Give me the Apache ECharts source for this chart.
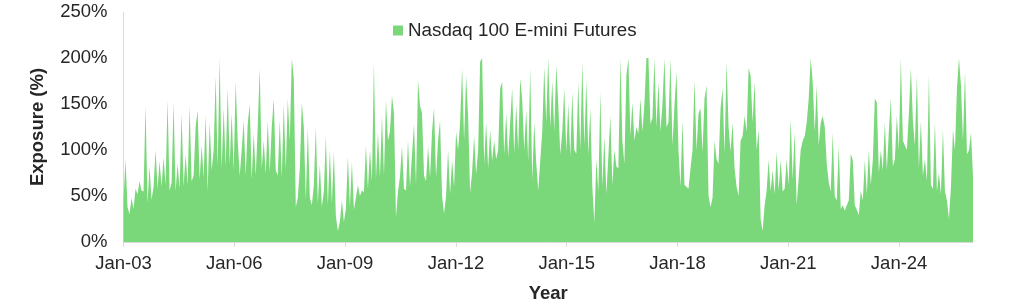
<!DOCTYPE html>
<html><head><meta charset="utf-8">
<script src="https://cdn.jsdelivr.net/npm/echarts@6/dist/echarts.min.js"></script>
<style>html,body{margin:0;padding:0;background:#fff}#c{width:1024px;height:306px}</style>
</head><body><div id="c"></div>
<script>
const seriesName = 'Nasdaq 100 E-mini Futures';
const startYear = 2003;
const endYear = 2026;
const tickYears = [2003, 2006, 2009, 2012, 2015, 2018, 2021, 2024];
const yTicks = [0, 50, 100, 150, 200, 250];
const exposure = [
45,90,38,30,48,36,58,52,66,56,
55,148,42,82,46,60,100,58,88,60,
92,62,154,56,64,152,55,85,58,140,
60,95,62,148,66,72,125,143,68,105,
70,138,55,130,78,100,180,82,200,80,
145,82,167,85,140,78,175,110,72,100,
132,72,128,150,68,118,72,125,189,80,
110,74,132,76,125,156,78,72,132,70,
150,78,156,110,200,178,38,48,80,152,
125,46,124,48,40,62,125,42,84,38,
55,115,40,100,42,98,28,12,22,45,
22,36,93,38,87,35,48,62,50,56,
54,105,58,100,66,196,68,119,70,137,
72,154,110,120,159,140,27,55,71,104,
58,56,111,60,95,128,62,176,148,140,
72,66,104,70,120,146,70,110,132,50,
31,50,100,52,89,60,120,100,130,189,
110,181,137,53,76,115,74,100,196,200,
85,130,80,122,88,110,90,100,167,174,
95,140,92,130,167,96,150,100,178,155,
100,143,88,189,67,130,86,56,88,120,
190,130,200,125,175,120,192,150,95,120,
167,98,150,92,163,100,96,174,100,196,
105,175,95,145,60,21,90,55,163,60,
115,52,93,137,62,100,82,80,200,110,
85,181,200,115,152,110,125,118,156,120,
150,200,200,128,135,200,125,174,120,150,
200,125,130,200,105,148,185,100,60,132,
62,60,58,80,100,176,100,140,145,98,
156,170,50,38,48,110,90,85,145,167,
96,196,125,98,130,80,60,50,110,115,
137,120,189,181,130,174,100,122,25,12,
40,56,89,55,78,52,98,56,89,55,
58,90,62,134,68,119,40,70,100,110,
115,130,156,200,174,120,170,105,130,137,
125,85,65,55,119,50,45,104,36,40,
34,40,45,96,89,40,35,29,56,45,
89,52,100,62,89,156,152,75,100,78,
130,78,120,156,82,90,137,100,200,110,
105,100,140,189,132,105,181,80,132,72,
90,66,181,62,58,130,55,75,52,122,
55,45,25,60,122,100,167,200,170,110,
185,95,100,119,71
];
const step = (endYear - startYear) / (exposure.length - 1);
const points = exposure.map((v, i) => [startYear + i * step, v]);

const green = '#7AD87A';
const font = "'Liberation Sans', Arial, sans-serif";
const textColor = '#262626';
const axisGray = '#d9d9d9';

const chart = echarts.init(document.getElementById('c'), null, {renderer: 'canvas'});
chart.setOption({
  animation: false,
  textStyle: {fontFamily: font},
  grid: {left: 123.5, right: 51, top: 12, bottom: 64, outerBoundsMode: 'none'},
  legend: {
    data: [seriesName],
    left: 388, top: 16,
    icon: 'rect', itemWidth: 10, itemHeight: 10,
    textStyle: {fontSize: 18.8, color: textColor, fontFamily: font}
  },
  xAxis: {
    type: 'value',
    min: startYear, max: endYear,
    name: 'Year', nameLocation: 'middle', nameGap: 42,
    nameTextStyle: {fontSize: 18.5, fontWeight: 'bold', color: textColor, fontFamily: font},
    axisLine: {show: true, lineStyle: {color: axisGray, width: 1}},
    axisTick: {show: true, length: 5, lineStyle: {color: axisGray}, customValues: tickYears},
    axisLabel: {
      customValues: tickYears, margin: 12.5,
      fontSize: 18.5, color: textColor, fontFamily: font,
      formatter: v => 'Jan-' + String(Math.round(v) % 100).padStart(2, '0')
    },
    splitLine: {show: false}
  },
  yAxis: {
    type: 'value', min: yTicks[0], max: yTicks[yTicks.length - 1], interval: 50,
    name: 'Exposure (%)', nameLocation: 'middle', nameGap: 76,
    nameTextStyle: {fontSize: 18.5, fontWeight: 'bold', color: textColor, fontFamily: font},
    axisLine: {show: true, lineStyle: {color: axisGray, width: 1}},
    axisTick: {show: false},
    axisLabel: {margin: 16, fontSize: 18.5, color: textColor, fontFamily: font, formatter: '{value}%'},
    splitLine: {show: false}
  },
  series: [{
    name: seriesName,
    type: 'line',
    data: points,
    showSymbol: false,
    symbol: 'none',
    sampling: 'none',
    silent: true,
    itemStyle: {color: green},
    lineStyle: {width: 0, color: green},
    areaStyle: {color: green, opacity: 1}
  }]
});
</script></body></html>
